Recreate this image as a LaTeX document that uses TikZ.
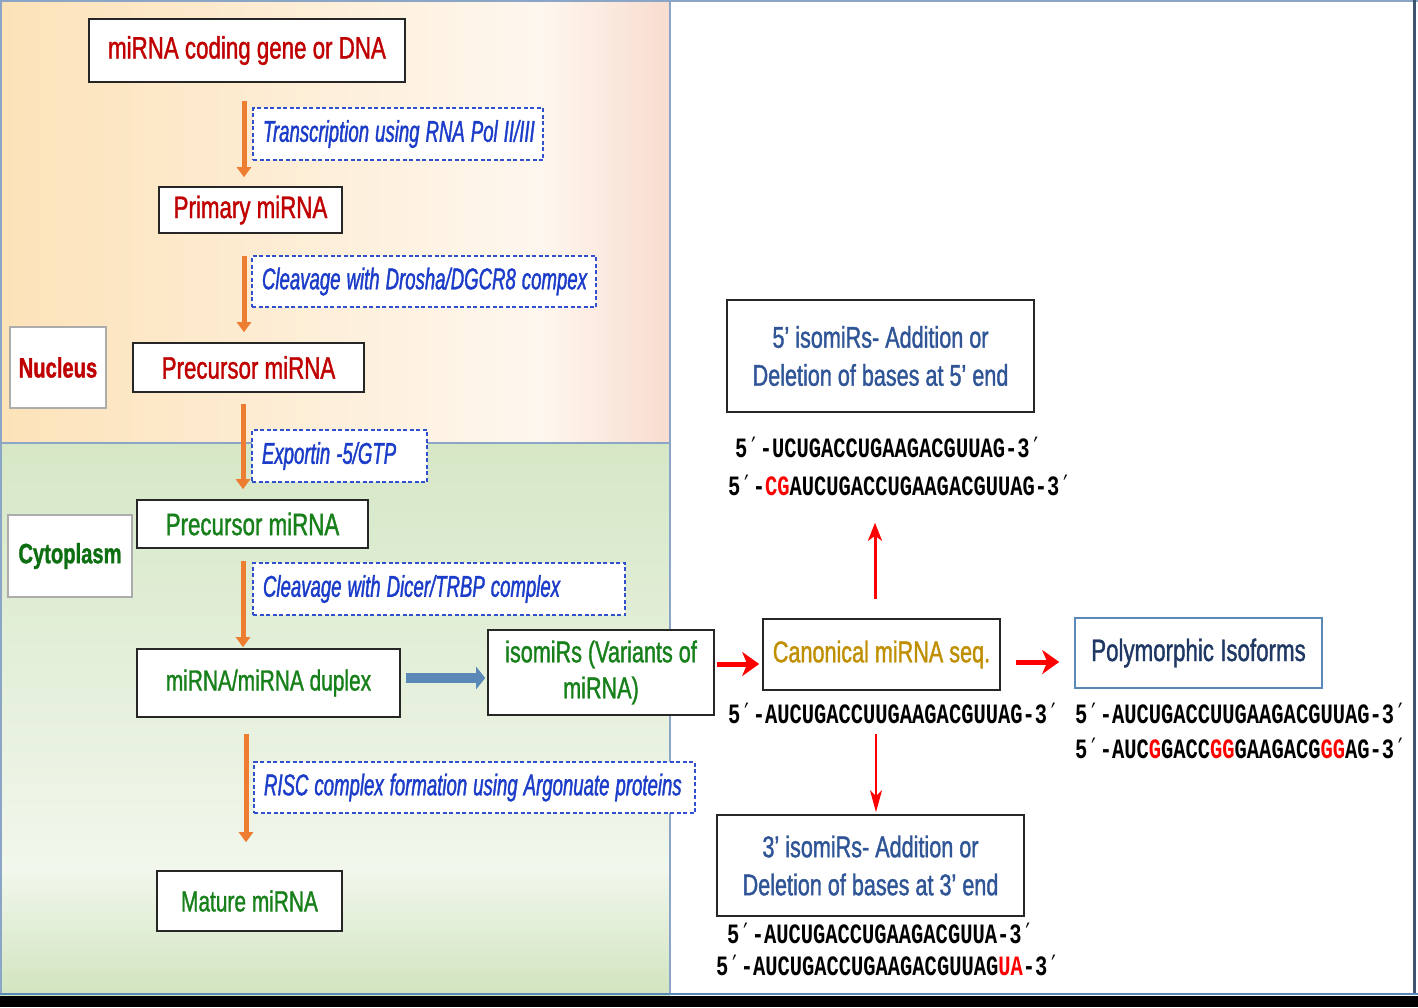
\documentclass[tikz,border=0pt]{standalone}
\usepackage{fontspec}
\setmainfont{Liberation Sans}
\newfontfamily\nar[FakeStretch=0.72,FakeBold=1.2]{Liberation Sans}
\newfontfamily\lab[FakeStretch=0.62,FakeBold=1.2]{Liberation Sans}
\newfontfamily\seqf[FakeStretch=0.73]{Liberation Mono}
\newfontfamily\prf[FakeStretch=0.73]{DejaVu Sans Mono}
\newcommand{\pr}{{\prf\mdseries ′}}
\newcommand{\lt}[2]{\makebox[#1][l]{\spaceskip=6pt\relax #2}}
\usetikzlibrary{arrows.meta}
\definecolor{rtxt}{HTML}{C00000}
\definecolor{gtxt}{HTML}{17801A}
\definecolor{cytg}{HTML}{0E6E12}
\definecolor{btxt}{HTML}{1A3CC8}
\definecolor{gold}{HTML}{BF8F00}
\definecolor{navy}{HTML}{1F3864}
\definecolor{isob}{HTML}{2F5597}
\definecolor{orng}{HTML}{ED7D31}
\definecolor{steel}{HTML}{5A89B8}
\definecolor{pline}{HTML}{8BA5C6}
\definecolor{dline}{HTML}{3F5470}
\definecolor{nucL}{HTML}{FCE2B8}
\definecolor{nucM}{HTML}{FEF7EF}
\definecolor{nucR}{HTML}{F8DCCF}
\definecolor{cytT}{HTML}{D6E7C6}
\definecolor{cytM}{HTML}{F1F7EC}
\definecolor{cytB}{HTML}{D1E4BF}
\tikzset{
  box/.style={draw=black!85, line width=1.6pt, fill=white, inner sep=0pt, align=center,
    font=\nar\fontsize{31}{37}\selectfont},
  lbl/.style={draw=btxt!90, dash pattern=on 4pt off 2.5pt, line width=1.6pt, fill=white,
    inner xsep=10pt, inner ysep=0pt,
    font=\lab\itshape\fontsize{30}{34}\selectfont, text=btxt},
  reg/.style={draw=gray!65, line width=1.2pt, fill=white, inner sep=0pt,
    font=\nar\bfseries\fontsize{28}{32}\selectfont},
  seq/.style={font=\seqf\bfseries\fontsize{28}{32}\selectfont, inner sep=0pt, anchor=west},
  orarrow/.style={draw=orng, line width=5pt, -{Triangle[width=14pt,length=10pt]}},
  redarrow/.style={draw=red, line width=5pt, -{Stealth[width=24pt,length=17pt,inset=5pt]}},
  redup/.style={draw=red, line width=3pt, -{Stealth[width=14pt,length=18pt,inset=5pt]}},
  reddown/.style={draw=red, line width=2pt, -{Stealth[width=12pt,length=22pt,inset=6pt]}},
  bluearrow/.style={draw=steel, line width=10pt, -{Triangle[width=22pt,length=9pt]}}
}
\begin{document}
\begin{tikzpicture}[x=1pt,y=-1pt]
\useasboundingbox (0,0) rectangle (1418,1007);
% backgrounds
\fill[white] (0,0) rectangle (1418,1007);
\shade[left color=nucL, right color=nucM] (0,0) rectangle (540,443);
\shade[left color=nucM, right color=nucR] (540,0) rectangle (670,443);
\shade[top color=cytT, bottom color=cytM] (0,443) rectangle (670,870);
\shade[top color=cytM, bottom color=cytB] (0,870) rectangle (670,995);
\draw[pline, line width=1.5pt] (0,443) -- (670,443);
\draw[pline, line width=1.5pt] (670,0) -- (670,995);
\draw[pline, line width=2pt] (1,0) -- (1,995);
\draw[pline, line width=2pt] (0,1) -- (1418,1);
\draw[dline, line width=2.5pt] (1414.5,0) -- (1414.5,995);
\draw[steel, line width=1.5pt] (0,994) -- (1418,994);
\fill[black] (0,995.5) rectangle (1418,1007);
% left column
\node[box, text=rtxt, minimum width=316pt, minimum height=63pt] (gene) at (247,50.5) {miRNA coding gene or DNA};
\node[lbl, minimum height=52pt] (l1) at (398,134) {\lt{270pt}{Transcription using RNA Pol II/III}};
\node[box, text=rtxt, minimum width=183pt, minimum height=46pt] (prim) at (250.5,210) {Primary miRNA};
\node[lbl, minimum height=51pt] (l2) at (424,281.5) {\lt{324pt}{Cleavage with Drosha/DGCR8 compex}};
\node[reg, text=rtxt, minimum width=96pt, minimum height=81pt] (nuc) at (58,367.5) {Nucleus};
\node[box, text=rtxt, minimum width=231pt, minimum height=49pt] (pre1) at (248.5,367.5) {Precursor miRNA};
\node[lbl, minimum height=52pt] (l3) at (339.5,456) {\lt{155pt}{Exportin -5/GTP}};
\node[box, text=gtxt, minimum width=231pt, minimum height=48pt] (pre2) at (252.5,524) {Precursor miRNA};
\node[reg, text=cytg, minimum width=124pt, minimum height=82pt] (cyt) at (70,556) {Cytoplasm};
\node[lbl, minimum height=52pt] (l4) at (439,589) {\lt{352pt}{Cleavage with Dicer/TRBP complex}};
\node[box, text=gtxt, minimum width=263pt, minimum height=68pt, font=\nar\fontsize{29}{35}\selectfont] (dup) at (268.5,683) {miRNA/miRNA duplex};
\node[box, text=gtxt, minimum width=226pt, minimum height=85pt, font=\nar\fontsize{30}{36}\selectfont] (iso) at (601,672.5) {isomiRs (Variants of\\miRNA)};
\node[lbl, minimum height=51pt] (l5) at (474.5,787.5) {\lt{421pt}{RISC complex formation using Argonuate proteins}};
\node[box, text=gtxt, minimum width=185pt, minimum height=60pt, font=\nar\fontsize{29}{35}\selectfont] (mat) at (249.5,901) {Mature miRNA};
% right column
\node[box, text=gold, minimum width=237pt, minimum height=71pt, font=\nar\fontsize{30}{36}\selectfont] (can) at (881.5,654.5) {Canonical miRNA seq.};
\node[box, draw=steel, text=navy, minimum width=247pt, minimum height=70pt] (poly) at (1198.5,653) {Polymorphic Isoforms};
\node[box, text=isob, minimum width=307pt, minimum height=112pt, font=\nar\fontsize{30}{38}\selectfont] (i5) at (880.5,356) {5’ isomiRs- Addition or\\Deletion of bases at 5’ end};
\node[box, text=isob, minimum width=307pt, minimum height=101pt, font=\nar\fontsize{30}{38}\selectfont] (i3) at (870.5,865.5) {3’ isomiRs- Addition or\\Deletion of bases at 3’ end};
% sequences
\node[seq] (cs) at (728,713) {5\pr-AUCUGACCUUGAAGACGUUAG-3\pr};
\node[seq] (ps1) at (1075,713) {5\pr-AUCUGACCUUGAAGACGUUAG-3\pr};
\node[seq] (ps2) at (1075,748) {5\pr-AUC{\color{red}G}GACC{\color{red}GG}GAAGACG{\color{red}GG}AG-3\pr};
\node[seq] (s51) at (735,447) {5\pr-UCUGACCUGAAGACGUUAG-3\pr};
\node[seq] (s52) at (728,485) {5\pr-{\color{red}CG}AUCUGACCUGAAGACGUUAG-3\pr};
\node[seq] (s31) at (727,933) {5\pr-AUCUGACCUGAAGACGUUA-3\pr};
\node[seq] (s32) at (716,965) {5\pr-AUCUGACCUGAAGACGUUAG{\color{red}UA}-3\pr};
% connectors
\draw[orarrow, shorten <=18pt, shorten >=9pt] ([xshift=-3pt]gene.south) -- ([xshift=-6.5pt]prim.north);
\draw[orarrow, shorten <=22pt, shorten >=10pt] ([xshift=-6.5pt]prim.south) -- ([xshift=-4.5pt]pre1.north);
\draw[orarrow, shorten <=11pt, shorten >=10pt] ([xshift=-5.5pt]pre1.south) -- ([xshift=-9.5pt]pre2.north);
\draw[orarrow, shorten <=12pt, shorten >=1pt] ([xshift=-9.5pt]pre2.south) -- ([xshift=-25.5pt]dup.north);
\draw[orarrow, shorten <=16pt, shorten >=28pt] ([xshift=-22.5pt]dup.south) -- ([xshift=-3.5pt]mat.north);
\draw[bluearrow, shorten <=5pt, shorten >=2pt] ([yshift=5pt]dup.east) -- ([yshift=-5.5pt]iso.west);
\draw[redarrow, shorten <=2pt, shorten >=3pt] ([yshift=8.5pt]iso.east) -- ([yshift=-9.5pt]can.west);
\draw[redarrow, shorten <=15pt, shorten >=15pt] ([yshift=-7.5pt]can.east) -- ([yshift=-9pt]poly.west);
\draw[redup, shorten <=19pt, shorten >=110pt] ([xshift=-6.5pt]can.north) -- ([xshift=-5.5pt]i5.south);
\draw[reddown, shorten <=43pt, shorten >=2pt] ([xshift=-5.5pt]can.south) -- ([xshift=5.5pt]i3.north);
\end{tikzpicture}
\end{document}
